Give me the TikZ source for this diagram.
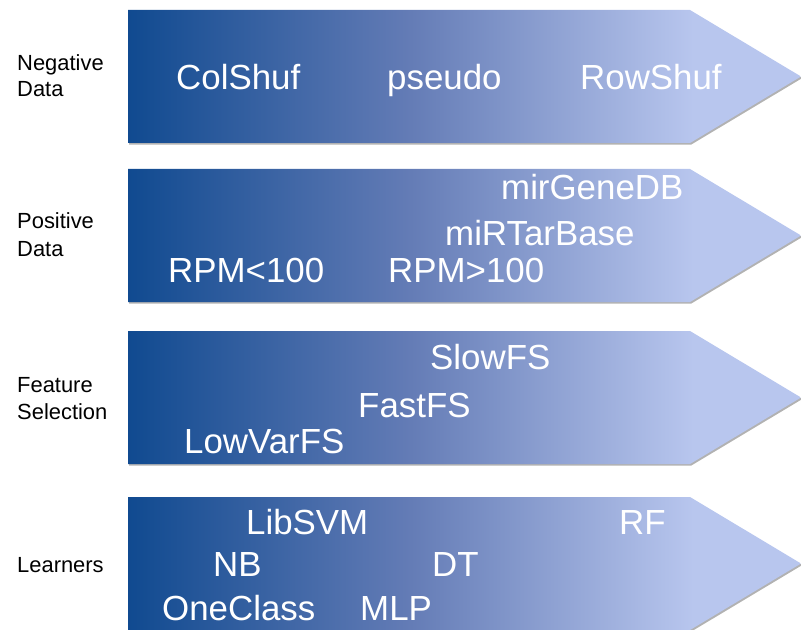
\documentclass[tikz,border=0pt]{standalone}
\usepackage{fontspec}
\setmainfont{Liberation Sans}
\usetikzlibrary{shadows}
\definecolor{stageDark}{RGB}{16,74,144}
\definecolor{stageMid}{RGB}{100,124,182}
\definecolor{stageLight}{RGB}{184,198,238}
% dark at the tail, light from the shoulder of the arrow onwards
\pgfdeclarehorizontalshading{stageshade}{100bp}{%
  color(0bp)=(stageDark); color(25bp)=(stageDark);
  color(46bp)=(stageMid); color(67bp)=(stageLight);
  color(100bp)=(stageLight)}
\tikzset{
  stage/.style={shading=stageshade, draw=none,
    drop shadow={shadow xshift=1.2bp, shadow yshift=-1.6bp, fill=black, opacity=0.3}},
  caption/.style={anchor=base west, inner sep=0pt, text=black,
    font=\fontsize{22}{26}\selectfont},
  item/.style={anchor=base west, inner sep=0pt, text=white,
    font=\fontsize{35}{40}\selectfont}
}
\newcommand{\stagearrow}[2]{% top edge, bottom edge (pixel rows)
  \path[stage] (128,#1) -- (690,#1) -- (801,{(#1+#2)/2}) -- (690,#2) -- (128,#2) -- cycle;}
\begin{document}
\begin{tikzpicture}[x=1bp,y=-1bp]
\useasboundingbox (0,0) rectangle (801,630);
\begin{scope}
\clip (0,0) rectangle (801,630);
% four pipeline stages
\stagearrow{10}{143}
\stagearrow{169}{302}
\stagearrow{331}{464}
\stagearrow{497}{630}
\end{scope}

% stage captions
\node[caption] (negA) at (17,71) {Negative};
\node[caption] (negB) at (17,97) {Data};
\node[caption] (posA) at (17,229) {Positive};
\node[caption] (posB) at (17,256) {Data};
\node[caption] (feaA) at (17,392) {Feature};
\node[caption] (feaB) at (17,419) {Selection};
\node[caption] (lrn)  at (17,572) {Learners};

% negative data
\node[item] (colshuf) at (176,90) {ColShuf};
\node[item] (pseudo)  at (387,90) {pseudo};
\node[item] (rowshuf) at (580,90) {RowShuf};

% positive data
\node[item] (mirgene) at (501,200) {mirGeneDB};
\node[item] (mirtar)  at (445,245) {miRTarBase};
\node[item] (rpmlow)  at (168,282) {RPM<100};
\node[item] (rpmhigh) at (388,282) {RPM>100};

% feature selection
\node[item] (slowfs)   at (430,369) {SlowFS};
\node[item] (fastfs)   at (358,417) {FastFS};
\node[item] (lowvarfs) at (184,453) {LowVarFS};

% learners
\node[item] (libsvm)   at (246,534) {LibSVM};
\node[item] (rf)       at (619,534) {RF};
\node[item] (nb)       at (213,576) {NB};
\node[item] (dt)       at (432,576) {DT};
\node[item] (oneclass) at (162,620) {OneClass};
\node[item] (mlp)      at (360,620) {MLP};
\end{tikzpicture}
\end{document}
